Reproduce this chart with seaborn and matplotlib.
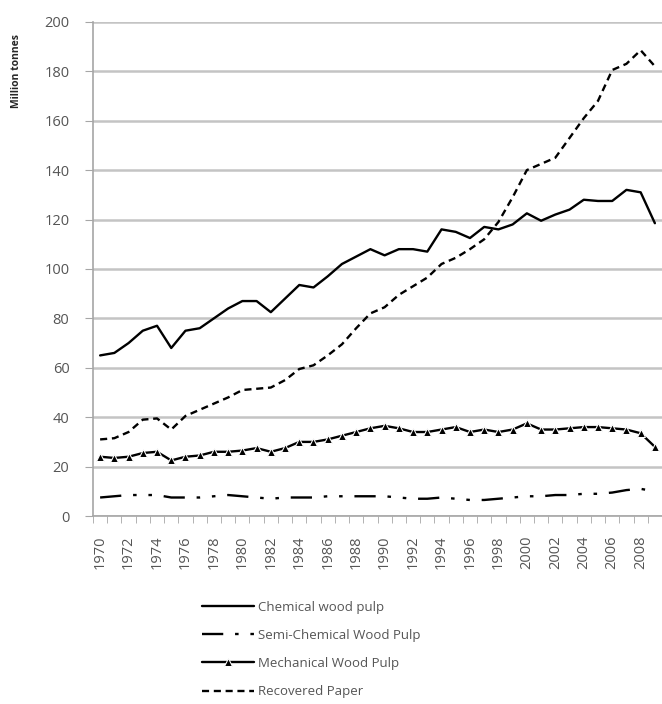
import numpy as np
import pandas as pd
import matplotlib.pyplot as plt
import seaborn as sns

# data (million tonnes)
years = list(range(1970, 2010))

chemical = [65, 66, 70, 75, 77, 68, 75, 76, 80, 84,
            87, 87, 82.5, 88, 93.5, 92.5, 97, 102, 105, 108,
            105.5, 108, 108, 107, 116, 115, 112.5, 117, 116, 118,
            122.5, 119.5, 122, 124, 128, 127.5, 127.5, 132, 131, 118.5]

semi_chemical = [7.5, 8, 8.5, 8.5, 8.5, 7.5, 7.5, 7.5, 8, 8.5,
                 8, 7.5, 7, 7.5, 7.5, 7.5, 8, 8, 8, 8,
                 8, 7.5, 7, 7, 7.5, 7, 6.5, 6.5, 7, 7.5,
                 8, 8, 8.5, 8.5, 9, 9, 9.5, 10.5, 11, 10]

mechanical = [24, 23.5, 24, 25.5, 26, 22.5, 24, 24.5, 26, 26,
              26.5, 27.5, 26, 27.5, 30, 30, 31, 32.5, 34, 35.5,
              36.5, 35.5, 34, 34, 35, 36, 34, 35, 34, 35,
              37.5, 35, 35, 35.5, 36, 36, 35.5, 35, 33.5, 28]

recovered = [31, 31.5, 34, 39, 39.5, 35, 40.5, 43, 45.5, 48,
             51, 51.5, 52, 55, 59.5, 61, 65, 69.5, 76, 82,
             84.5, 89.5, 93, 96.5, 102, 104.5, 108, 112, 119, 129,
             140, 142.5, 145, 153, 161, 168, 180.5, 183, 188.5, 182]

df = pd.DataFrame({'Year': years,
                   'Chemical wood pulp': chemical,
                   'Semi-Chemical Wood Pulp': semi_chemical,
                   'Mechanical Wood Pulp': mechanical,
                   'Recovered Paper': recovered})

sns.set_style('white')
plt.rcParams['font.family'] = ['Open Sans', 'DejaVu Sans']

fig = plt.figure(figsize=(6.62, 7.04), dpi=100)
ax = fig.add_axes([0.1405, 0.267, 0.8595, 0.702])

sns.lineplot(data=df, x='Year', y='Chemical wood pulp', ax=ax, color='black',
             linewidth=1.7, label='Chemical wood pulp')
sns.lineplot(data=df, x='Year', y='Semi-Chemical Wood Pulp', ax=ax, color='black',
             linewidth=1.7, label='Semi-Chemical Wood Pulp')
ax.lines[-1].set_linestyle((0, (9, 5, 1.5, 5, 1.5, 5)))
sns.lineplot(data=df, x='Year', y='Mechanical Wood Pulp', ax=ax, color='black',
             linewidth=1.7, marker='^', markersize=6, label='Mechanical Wood Pulp')
sns.lineplot(data=df, x='Year', y='Recovered Paper', ax=ax, color='black',
             linewidth=1.7, label='Recovered Paper')
ax.lines[-1].set_linestyle((0, (3, 2)))

ax.set_xlim(1969.5, 2009.5)
ax.set_ylim(0, 200)
ax.set_yticks(range(0, 201, 20))
ax.set_xticks(range(1970, 2009, 2))
ax.set_xticklabels([str(y) for y in range(1970, 2009, 2)], rotation=90)
ax.set_xticks(np.arange(1969.5, 2010, 1), minor=True)

ax.grid(axis='y', color='#c4c4c4', linewidth=1.8)
ax.set_axisbelow(True)
for s in ['top', 'right']:
    ax.spines[s].set_visible(False)
for s in ['left', 'bottom']:
    ax.spines[s].set_color('#a6a6a6')
    ax.spines[s].set_linewidth(1.2)

ax.tick_params(axis='x', which='major', length=0, pad=14, labelsize=10.5, labelcolor='#555555')
ax.tick_params(axis='x', which='minor', length=5, color='#a6a6a6', bottom=True)
ax.tick_params(axis='y', length=6, color='#a6a6a6', left=True, pad=11, labelsize=10.5,
               labelcolor='#555555')

ax.set_xlabel('')
ax.set_ylabel('Million tonnes', fontsize=7.5, fontweight='bold')
ax.yaxis.set_label_coords(-0.125, 0.9)

ax.legend(loc='upper left', bbox_to_anchor=(195 / 662, 1 - 594 / 704),
          bbox_transform=fig.transFigure, frameon=False, fontsize=9.5,
          handlelength=4.0, handletextpad=0.3, labelspacing=1.15,
          borderpad=0, labelcolor='#555555')

fig.savefig('out.png', dpi=100)
